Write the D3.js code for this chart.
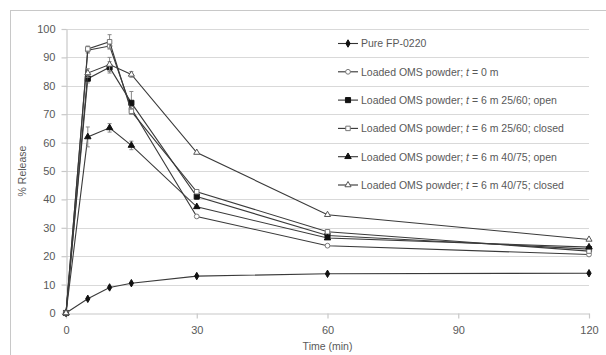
<!DOCTYPE html>
<html>
<head>
<meta charset="utf-8">
<script src="https://cdn.jsdelivr.net/npm/d3@7"></script>
<style>
  body { margin: 0; background: #fff; }
  text { font-family: "Liberation Sans", Arial, sans-serif; fill: #595959; }
</style>
</head>
<body>
<div id="chart"></div>
<script>
const times = [0, 5, 10, 15, 30, 60, 120];
const seriesNames = [
  "Pure FP-0220",
  "Loaded OMS powder; t = 0 m",
  "Loaded OMS powder; t = 6 m 25/60; open",
  "Loaded OMS powder; t = 6 m 25/60; closed",
  "Loaded OMS powder; t = 6 m 40/75; open",
  "Loaded OMS powder; t = 6 m 40/75; closed"
];
const pure = [0, 5, 9, 10.5, 13, 13.8, 14];
const oms0 = [0, 92.5, 94, 72, 34, 23.7, 20.6];
const open2560 = [0, 82.5, 86.5, 74, 41, 27.3, 22.5];
const closed2560 = [0, 93, 95.5, 71, 42.7, 28.6, 21.8];
const open4075 = [0, 62, 65.2, 59, 37.4, 26.4, 23.2];
const closed4075 = [0, 84.5, 87.5, 84, 56.5, 34.6, 25.9];
// error bars (± value) per point
const err0 = [0, 1, 1, 1, 0.5, 0.5, 0.5];
const errOpen2560 = [0, 1.5, 2, 4, 1, 0.5, 0.5];
const errClosed2560 = [0, 1, 2.5, 1, 0.5, 0.5, 0.5];
const errOpen4075 = [0, 3.5, 1.5, 1.5, 0.5, 0.5, 0.5];
const errClosed4075 = [0, 1.5, 2.5, 1, 0.5, 0.5, 0.5];
const xTicks = [0, 30, 60, 90, 120];
const yTicks = [0, 10, 20, 30, 40, 50, 60, 70, 80, 90, 100];

const W = 606, H = 355;
const svg = d3.select('#chart').append('svg')
  .attr('width', W).attr('height', H);

svg.append('rect')
  .attr('x', 10.5).attr('y', 10.5)
  .attr('width', 620).attr('height', 400)
  .attr('fill', 'none').attr('stroke', '#c8c8c8');

const x = d3.scaleLinear().domain([0, 120]).range([66, 589]);
const y = d3.scaleLinear().domain([0, 100]).range([313, 29]);

// gridlines
svg.append('g').selectAll('line')
  .data(yTicks.filter(d => d > 0))
  .enter().append('line')
  .attr('x1', x(0)).attr('x2', x(120))
  .attr('y1', d => Math.round(y(d)) + 0.5).attr('y2', d => Math.round(y(d)) + 0.5)
  .attr('stroke', '#d9d9d9').attr('stroke-width', 1.2);

// axes
const xAxis = svg.append('g')
  .attr('transform', 'translate(0,' + (Math.round(y(0)) + 0.5) + ')')
  .call(d3.axisBottom(x).tickValues(xTicks).tickSize(5).tickPadding(8).tickSizeOuter(0));
const yAxis = svg.append('g')
  .attr('transform', 'translate(' + (x(0) + 0.5) + ',0)')
  .call(d3.axisLeft(y).tickValues(yTicks).tickSize(5).tickPadding(6).tickSizeOuter(0));
[xAxis, yAxis].forEach(g => {
  g.selectAll('path, line').attr('stroke', '#c8c8c8').attr('stroke-width', 1.2);
  g.selectAll('text').style('font-size', '11px').style('fill', '#595959')
    .style('font-family', '"Liberation Sans", Arial, sans-serif');
});

svg.append('text')
  .attr('x', x(60)).attr('y', 350)
  .attr('text-anchor', 'middle').style('font-size', '10.5px').style('fill', '#595959')
  .text('Time (min)');
svg.append('text')
  .attr('transform', 'translate(26,' + y(50) + ') rotate(-90)')
  .attr('text-anchor', 'middle').style('font-size', '10.5px').style('fill', '#595959')
  .text('% Release');

const series = [
  { name: seriesNames[0], values: pure, err: null, shape: d3.symbolDiamond, size: 16, fill: '#111', stroke: '#111' },
  { name: seriesNames[1], values: oms0, err: err0, shape: d3.symbolCircle, size: 18, fill: '#fff', stroke: '#777' },
  { name: seriesNames[2], values: open2560, err: errOpen2560, shape: d3.symbolSquare, size: 26, fill: '#111', stroke: '#111' },
  { name: seriesNames[3], values: closed2560, err: errClosed2560, shape: d3.symbolSquare, size: 20, fill: '#fff', stroke: '#777' },
  { name: seriesNames[4], values: open4075, err: errOpen4075, shape: d3.symbolTriangle, size: 18, fill: '#111', stroke: '#111' },
  { name: seriesNames[5], values: closed4075, err: errClosed4075, shape: d3.symbolTriangle, size: 16, fill: '#fff', stroke: '#555' }
];

const line = d3.line().x(d => x(d[0])).y(d => y(d[1]));

series.forEach(s => {
  const pts = times.map((t, i) => [t, s.values[i], s.err ? s.err[i] : 0]);
  const g = svg.append('g');
  g.append('path').datum(pts)
    .attr('d', line).attr('fill', 'none')
    .attr('stroke', '#3a3a3a').attr('stroke-width', 1.1);
  if (s.err) {
    const eb = g.selectAll('.eb').data(pts.filter(p => p[2] > 0.8)).enter().append('g');
    eb.append('line')
      .attr('x1', p => x(p[0])).attr('x2', p => x(p[0]))
      .attr('y1', p => y(p[1] + p[2])).attr('y2', p => y(p[1] - p[2]))
      .attr('stroke', '#888').attr('stroke-width', 1);
    [1, -1].forEach(sgn => {
      eb.append('line')
        .attr('x1', p => x(p[0]) - 2).attr('x2', p => x(p[0]) + 2)
        .attr('y1', p => y(p[1] + sgn * p[2])).attr('y2', p => y(p[1] + sgn * p[2]))
        .attr('stroke', '#888').attr('stroke-width', 1);
    });
  }
  g.selectAll('.m').data(pts).enter().append('path')
    .attr('transform', p => 'translate(' + x(p[0]) + ',' + y(p[1]) + ')')
    .attr('d', d3.symbol().type(s.shape).size(s.size))
    .attr('fill', s.fill).attr('stroke', s.stroke).attr('stroke-width', 1);
});

// legend
const legend = svg.append('g');
series.forEach((s, i) => {
  const ly = 43.5 + i * 28.3;
  legend.append('line')
    .attr('x1', 338).attr('x2', 358).attr('y1', ly).attr('y2', ly)
    .attr('stroke', '#333').attr('stroke-width', 1.1);
  legend.append('path')
    .attr('transform', 'translate(348,' + ly + ')')
    .attr('d', d3.symbol().type(s.shape).size(s.size))
    .attr('fill', s.fill).attr('stroke', s.stroke);
  const parts = s.name.split('t = ');
  const txt = legend.append('text')
    .attr('x', 361).attr('y', ly + 3.8).style('font-size', '10.5px').style('fill', '#595959');
  txt.append('tspan').text(parts[0]);
  if (parts.length > 1) {
    txt.append('tspan').style('font-style', 'italic').text('t');
    txt.append('tspan').text(' = ' + parts[1]);
  }
});
</script>
</body>
</html>
